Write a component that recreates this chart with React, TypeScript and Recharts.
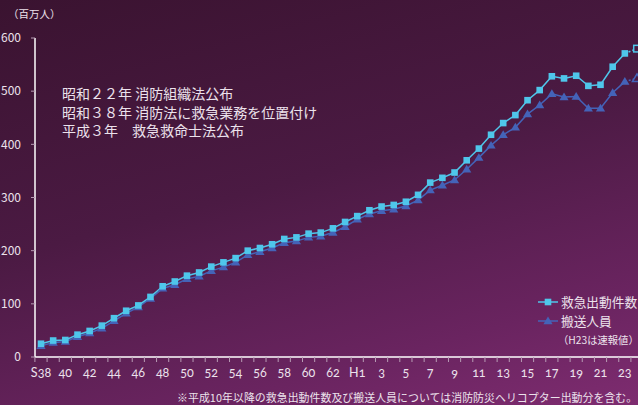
import { Line, LineChart, XAxis, YAxis } from "recharts";

const years = [
  "S38", "39", "40", "41", "42", "43", "44", "45", "46", "47", "48", "49", "50",
  "51", "52", "53", "54", "55", "56", "57", "58", "59", "60", "61", "62", "63",
  "H1", "2", "3", "4", "5", "6", "7", "8", "9", "10", "11", "12", "13", "14",
  "15", "16", "17", "18", "19", "20", "21", "22", "23", "24",
];

// 救急出動件数
const dispatches = [
  25, 31, 32, 42, 49, 59, 73, 87, 97, 113,
  133, 142, 153, 159, 170, 178, 186, 200, 205, 212,
  222, 225, 232, 234, 242, 254, 265, 276, 283, 286,
  292, 305, 328, 337, 347, 370, 392, 418, 440, 455,
  483, 502, 528, 524, 529, 510, 512, 546, 571, 580,
];

// 搬送人員
const transported = [
  21, 27, 29, 38, 45, 54, 68, 82, 94, 110,
  129, 136, 147, 152, 162, 169, 178, 192, 198, 205,
  215, 218, 225, 227, 234, 245, 259, 269, 275, 278,
  284, 295, 314, 323, 333, 353, 375, 398, 418, 432,
  457, 474, 495, 489, 490, 468, 468, 497, 518, 524,
];

const yTicks = [0, 100, 200, 300, 400, 500, 600];

const notes = [
  "昭和２２年 消防組織法公布",
  "昭和３８年 消防法に救急業務を位置付け",
  "平成３年　救急救命士法公布",
];

const legendRows = [
  { name: "救急出動件数", tri: false },
  { name: "搬送人員", tri: true },
];

const LAST = years.length - 1;
const data = years.map((label, i) => ({
  label,
  a: i < LAST ? dispatches[i] : null,
  b: i < LAST ? transported[i] : null,
  ap: i >= LAST - 1 ? dispatches[i] : null,
  bp: i >= LAST - 1 ? transported[i] : null,
}));

const CYAN = "#4fc6ea";
const BLUE = "#4463b8";
const BG = "#4b1a43";
const TEXT = "#ece2ec";
const STEP = (608 - 12) / LAST;

function square(color: string, hollow = false) {
  return (p: any) => {
    if (p.cx == null || p.cy == null || p.value == null) return <g key={p.key} />;
    if (hollow && p.index !== LAST) return <g key={p.key} />;
    return (
      <rect
        key={p.key}
        x={p.cx - 3.3}
        y={p.cy - 3.3}
        width={6.6}
        height={6.6}
        fill={hollow ? BG : color}
        stroke={color}
        strokeWidth={hollow ? 1.5 : 0}
      />
    );
  };
}

function triangle(color: string, hollow = false) {
  return (p: any) => {
    if (p.cx == null || p.cy == null || p.value == null) return <g key={p.key} />;
    if (hollow && p.index !== LAST) return <g key={p.key} />;
    const { cx, cy } = p;
    return (
      <polygon
        key={p.key}
        points={`${cx},${cy - 4.5} ${cx - 4.6},${cy + 3.2} ${cx + 4.6},${cy + 3.2}`}
        fill={hollow ? BG : color}
        stroke={color}
        strokeWidth={hollow ? 1.5 : 0}
      />
    );
  };
}

function XTick(props: any) {
  const { x, y, payload } = props;
  const i = payload.index;
  const edge = x - STEP / 2;
  return (
    <g>
      <line x1={edge} x2={edge} y1={y} y2={y + 5} stroke="#b79bb4" strokeWidth={1} />
      {i % 2 === 0 && i < LAST ? (
        <text x={x} y={y + 20} textAnchor="middle" fill={TEXT} fontSize={12.5} className="num">
          {payload.value}
        </text>
      ) : null}
    </g>
  );
}

export default function App() {
  return (
    <div
      style={{
        position: "absolute",
        left: 0,
        top: 0,
        width: 638,
        height: 405,
        overflow: "hidden",
        background: "linear-gradient(165deg, #3a1330 0%, #4b1a43 45%, #6a2460 80%, #7e2c70 100%)",
        fontFamily: "'Noto Sans CJK JP'",
      }}
    >
      <style>{`.num, .recharts-yAxis .recharts-cartesian-axis-tick-value { font-family: Lato, 'DejaVu Sans', sans-serif; font-variant-numeric: oldstyle-nums; }`}</style>
      <div style={{ position: "absolute", left: 8, top: 6, fontSize: 10.5, color: TEXT }}>（百万人）</div>
      <LineChart width={650} height={405} data={data} margin={{ top: 38, right: 7, bottom: 0, left: 0 }}>
        <XAxis
          dataKey="label"
          interval={0}
          height={48}
          padding={{ left: 6, right: 6 }}
          tickSize={0}
          tickMargin={0}
          tick={<XTick />}
          axisLine={{ stroke: "#ffffff", strokeWidth: 1.5 }}
          tickLine={false}
        />
        <YAxis
          domain={[0, 600]}
          ticks={yTicks}
          width={35}
          tickSize={4}
          tickMargin={10}
          tick={{ fill: TEXT, fontSize: 12 }}
          tickLine={{ stroke: "#b79bb4" }}
          axisLine={{ stroke: "#ffffff", strokeWidth: 1.5 }}
        />
        <Line
          dataKey="bp"
          stroke={BLUE}
          strokeWidth={1.5}
          strokeDasharray="2 2"
          dot={triangle(BLUE, true)}
          activeDot={false}
          isAnimationActive={false}
        />
        <Line
          dataKey="b"
          stroke={BLUE}
          strokeWidth={1.5}
          dot={triangle(BLUE)}
          activeDot={false}
          isAnimationActive={false}
        />
        <Line
          dataKey="ap"
          stroke={CYAN}
          strokeWidth={1.5}
          strokeDasharray="2 2"
          dot={square(CYAN, true)}
          activeDot={false}
          isAnimationActive={false}
        />
        <Line
          dataKey="a"
          stroke={CYAN}
          strokeWidth={1.5}
          dot={square(CYAN)}
          activeDot={false}
          isAnimationActive={false}
        />
      </LineChart>
      <div style={{ position: "absolute", left: 62, top: 84, fontSize: 14, lineHeight: "18.5px", color: TEXT }}>
        {notes.map((n) => (
          <div key={n} style={{ whiteSpace: "pre" }}>{n}</div>
        ))}
      </div>
      <div style={{ position: "absolute", left: 536, top: 292, color: TEXT, whiteSpace: "nowrap" }}>
        {legendRows.map((r) => {
          const color = r.tri ? BLUE : CYAN;
          return (
            <div key={r.name} style={{ display: "flex", alignItems: "center", height: 19, fontSize: 12.7 }}>
              <svg width={24} height={12} style={{ marginRight: 1 }}>
                <line x1={2} x2={22} y1={6} y2={6} stroke={color} strokeWidth={1.5} />
                {r.tri ? (
                  <polygon points="12,1.5 7.4,9.2 16.6,9.2" fill={color} />
                ) : (
                  <rect x={8.7} y={2.7} width={6.6} height={6.6} fill={color} />
                )}
              </svg>
              {r.name}
            </div>
          );
        })}
      </div>
      <div
        style={{
          position: "absolute",
          left: 558,
          top: 333,
          fontSize: 10.3,
          lineHeight: "14px",
          color: TEXT,
          whiteSpace: "nowrap",
        }}
      >
        （H23は速報値）
      </div>
      <div
        style={{
          position: "absolute",
          left: 177,
          top: 390,
          fontSize: 10.9,
          lineHeight: "14px",
          letterSpacing: 0.05,
          color: TEXT,
          whiteSpace: "nowrap",
        }}
      >
        ※平成10年以降の救急出動件数及び搬送人員については消防防災ヘリコプター出動分を含む。
      </div>
    </div>
  );
}
